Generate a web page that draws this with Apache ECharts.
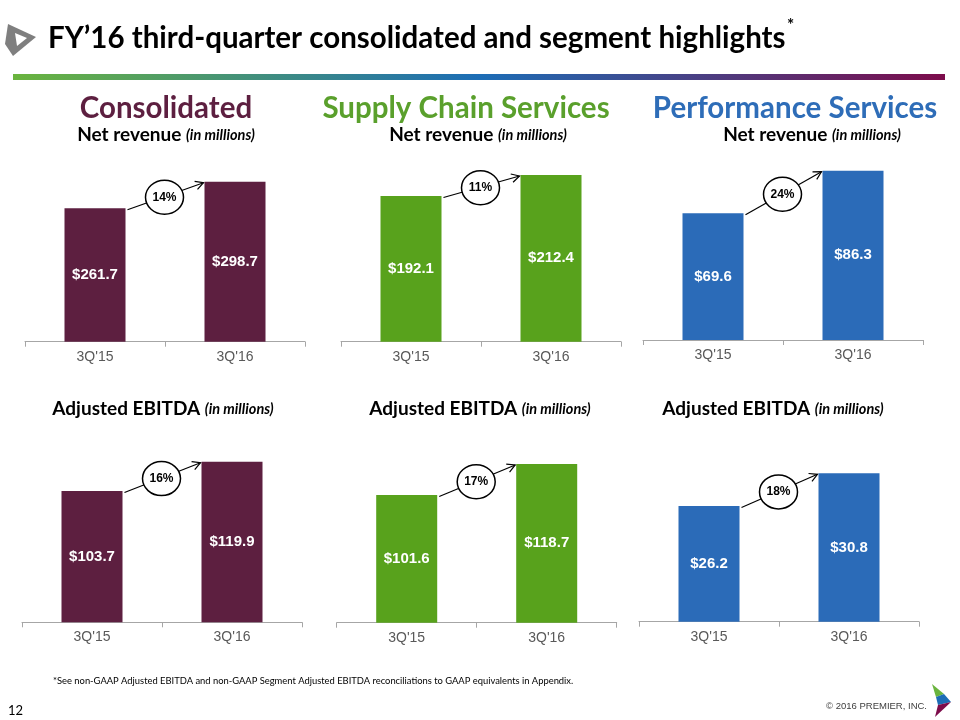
<!DOCTYPE html>
<html><head><meta charset="utf-8">
<script src="https://cdn.jsdelivr.net/npm/echarts@6/dist/echarts.min.js"></script>
<style>html,body{margin:0;padding:0;background:#fff}#c{width:960px;height:720px}</style>
</head><body><div id="c"></div>
<script>
// ---- data ----
var categories = ["3Q'15", "3Q'16"];
var consolidatedRevenue = [261.7, 298.7];
var supplyRevenue = [192.1, 212.4];
var performanceRevenue = [69.6, 86.3];
var consolidatedEbitda = [103.7, 119.9];
var supplyEbitda = [101.6, 118.7];
var performanceEbitda = [26.2, 30.8];
var growthLabels = ['14%', '11%', '24%', '16%', '17%', '18%'];
var sectionTitles = ['Consolidated', 'Supply Chain Services', 'Performance Services'];

// ---- layout/style ----
var MAROON = '#5d1f40', GREEN = '#58a21c', BLUE = '#2b6bb8';
var panels = [
  {vals: consolidatedRevenue, color: MAROON, left: 25, top: 181.7, height: 160, min: 76.1},
  {vals: supplyRevenue, color: GREEN, left: 341, top: 175, height: 166.7, min: 51.3},
  {vals: performanceRevenue, color: BLUE, left: 643, top: 170.7, height: 169.3, min: 19.9},
  {vals: consolidatedEbitda, color: MAROON, left: 22, top: 461.7, height: 160.6, min: 31.1},
  {vals: supplyEbitda, color: GREEN, left: 336.7, top: 464, height: 158.7, min: 31.2},
  {vals: performanceEbitda, color: BLUE, left: 639, top: 473.3, height: 148.4, min: 9.9}
];
var BARW = 61;
var chart = echarts.init(document.getElementById('c'));
var grids = [], xAxes = [], yAxes = [], series = [];
panels.forEach(function (p, i) {
  grids.push({left: p.left, top: p.top, width: 280, height: p.height, outerBoundsMode: 'none', containLabel: false});
  xAxes.push({type: 'category', gridIndex: i, data: categories,
    axisLine: {lineStyle: {color: '#a6a6a6', width: 1}},
    axisTick: {show: true, length: 5, lineStyle: {color: '#a6a6a6'}},
    axisLabel: {color: '#595959', fontSize: 14, fontFamily: 'Liberation Sans, Arial', margin: 8}});
  yAxes.push({type: 'value', gridIndex: i, show: false, min: p.min, max: p.vals[1], splitLine: {show: false}});
  series.push({type: 'bar', xAxisIndex: i, yAxisIndex: i, data: p.vals, barWidth: BARW,
    itemStyle: {color: p.color}, silent: true,
    label: {show: true, position: 'inside', color: '#fff', fontSize: 15, fontWeight: 'bold',
      fontFamily: 'Liberation Sans, Arial', formatter: function (d) { return '$' + d.value.toFixed(1); }}});
  (function (pct) {
    series.push({type: 'custom', xAxisIndex: i, yAxisIndex: i, clip: false, z: 5, silent: true,
      data: [[0, p.vals[0], p.vals[1]]], encode: {x: 0, y: [1, 2]},
      renderItem: function (params, api) {
        var a = api.coord([0, api.value(1)]);
        var b = api.coord([1, api.value(2)]);
        var x1 = a[0] + BARW / 2 + 2, y1 = a[1] + 1.5;
        var x2 = b[0] - BARW / 2 - 1, y2 = b[1] + 1;
        var ang = Math.atan2(y2 - y1, x2 - x1), L = 9, s = 0.5;
        var h1 = [x2 - L * Math.cos(ang - s), y2 - L * Math.sin(ang - s)];
        var h2 = [x2 - L * Math.cos(ang + s), y2 - L * Math.sin(ang + s)];
        var cx = (x1 + x2) / 2 - 1, cy = (y1 + y2) / 2 + 1;
        var st = {stroke: '#000', lineWidth: 1.2, fill: null};
        return {type: 'group', children: [
          {type: 'line', shape: {x1: x1, y1: y1, x2: x2, y2: y2}, style: st},
          {type: 'polyline', shape: {points: [h1, [x2, y2], h2]}, style: st},
          {type: 'ellipse', shape: {cx: cx, cy: cy, rx: 19, ry: 17}, style: {fill: '#fff', stroke: '#000', lineWidth: 1.5}},
          {type: 'text', x: cx, y: cy, style: {text: pct, fill: '#000', align: 'center', verticalAlign: 'middle',
            font: 'bold 12px "Liberation Sans", Arial'}}
        ]};
      }});
  })(growthLabels[i]);
});

var F = 'Lato, "Open Sans", sans-serif';
function txt(x, y, text, font, fill, align) {
  return {type: 'text', x: x, y: y, silent: true, style: {text: text, font: font, fill: fill || '#000',
    align: align || 'center', verticalAlign: 'middle'}};
}
function sub(x, y, main) {
  return {type: 'text', x: x, y: y, silent: true, style: {text: '{b|' + main + ' }{i|(in millions)}', align: 'center', verticalAlign: 'middle',
    rich: {b: {fontFamily: F, fontWeight: 'bold', fontSize: 19, fill: '#000'},
           i: {fontFamily: F, fontWeight: 'bold', fontStyle: 'italic', fontSize: 14.5, fill: '#000'}}}};
}
var graphic = [
  // title logo
  {type: 'polygon', silent: true, shape: {points: [[8, 24], [36, 37], [13, 56], [5, 44]]}, style: {fill: '#7f7f7f'}},
  {type: 'polygon', silent: true, shape: {points: [[15, 33], [27, 38], [17, 46]]}, style: {fill: '#fff'}},
  txt(48, 38, 'FY\u201916 third-quarter consolidated and segment highlights', 'bold 29.5px ' + F, '#000', 'left'),
  txt(787, 26, '*', 'bold 17px ' + F, '#000', 'left'),
  {type: 'rect', silent: true, shape: {x: 13, y: 74, width: 932, height: 6},
    style: {fill: {type: 'linear', x: 0, y: 0, x2: 1, y2: 0, colorStops: [
      {offset: 0, color: '#6ab43e'}, {offset: 0.5, color: '#1c6db6'}, {offset: 1, color: '#7d0c4b'}]}}},
  txt(166, 108, sectionTitles[0], 'bold 29.5px ' + F, '#5d1f40'),
  txt(466, 108, sectionTitles[1], 'bold 29.5px ' + F, '#5aa02c'),
  txt(795, 108, sectionTitles[2], 'bold 29.5px ' + F, '#2e6db8'),
  sub(166, 135, 'Net revenue'), sub(478, 135, 'Net revenue'), sub(812, 135, 'Net revenue'),
  sub(163, 409, 'Adjusted EBITDA'), sub(480, 409, 'Adjusted EBITDA'), sub(773, 409, 'Adjusted EBITDA'),
  txt(53, 681, '*See non-GAAP Adjusted EBITDA and non-GAAP Segment Adjusted EBITDA reconciliations to GAAP equivalents in Appendix.', '9.4px ' + F, '#000', 'left'),
  txt(8, 711, '12', '13px ' + F, '#000', 'left'),
  txt(927, 706, '\u00a9 2016 PREMIER, INC.', '9.5px "Liberation Sans", Arial', '#404040', 'right'),
  // footer logo
  {type: 'polygon', silent: true, shape: {points: [[932, 684], [944, 694], [936, 697]]}, style: {fill: '#6ab43e'}},
  {type: 'polygon', silent: true, shape: {points: [[944, 694], [951, 702], [938, 705], [936, 697]]}, style: {fill: '#1c6db6'}},
  {type: 'polygon', silent: true, shape: {points: [[951, 702], [935, 717], [938, 705]]}, style: {fill: '#7d0c4b'}}
];

chart.setOption({animation: false, grid: grids, xAxis: xAxes, yAxis: yAxes, series: series, graphic: graphic});
</script></body></html>
